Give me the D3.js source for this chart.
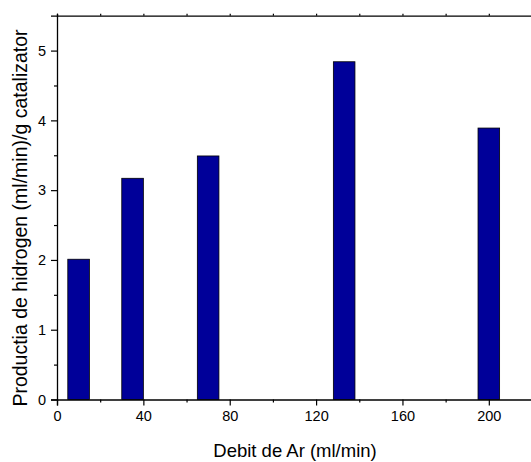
<!DOCTYPE html>
<html>
<head>
<meta charset="utf-8">
<script src="https://cdn.jsdelivr.net/npm/d3@7"></script>
<style>
  html, body { margin: 0; padding: 0; background: #fff; }
  svg { display: block; }
  text { font-family: "Liberation Sans", Arial, sans-serif; }
</style>
</head>
<body>
<svg id="chart" width="531" height="462"></svg>
<script>
const flows = [10, 35, 70, 133, 200];
const production = [2.01, 3.17, 3.49, 4.84, 3.89];
const barWidth = 10;
const xMajorTicks = [0, 40, 80, 120, 160, 200];
const xMinorTicks = [20, 60, 100, 140, 180, 220];
const yMajorTicks = [0, 1, 2, 3, 4, 5];
const yMinorTicks = [0.5, 1.5, 2.5, 3.5, 4.5];
const xTitle = "Debit de Ar (ml/min)";
const yTitle = "Productia de hidrogen (ml/min)/g catalizator";

(function () {
const svg = d3.select("#chart");
const mLeft = 57, mRight = 532, mTop = 15.7, mBottom = 399.5;

const x = d3.scaleLinear().domain([0, 220]).range([mLeft, mRight]);
const y = d3.scaleLinear().domain([0, 5.5]).range([mBottom, mTop]);

// bars
svg.append("g").selectAll("rect")
  .data(flows.map((f, i) => ({f, v: production[i]})))
  .join("rect")
  .attr("x", d => x(d.f - barWidth / 2))
  .attr("width", d => x(d.f + barWidth / 2) - x(d.f - barWidth / 2))
  .attr("y", d => y(d.v))
  .attr("height", d => y(0) - y(d.v))
  .attr("fill", "#000099")
  .attr("stroke", "#000")
  .attr("stroke-width", 0.8);

const fontSize = "14.5px";

// bottom axis major
const gxb = svg.append("g").attr("transform", `translate(0,${mBottom})`)
  .call(d3.axisBottom(x).tickValues(xMajorTicks).tickSize(6).tickPadding(5).tickFormat(d3.format("d")));
gxb.select(".domain").attr("stroke-width", 1.3);
gxb.selectAll(".tick line").attr("stroke-width", 1.2);
gxb.selectAll("text").style("font-size", fontSize).attr("fill", "#000");
// bottom axis minor
const gxbm = svg.append("g").attr("transform", `translate(0,${mBottom})`)
  .call(d3.axisBottom(x).tickValues(xMinorTicks).tickSize(3).tickFormat(""));
gxbm.select(".domain").remove();
gxbm.selectAll(".tick line").attr("stroke-width", 1.2);

// top axis (no labels)
const gxt = svg.append("g").attr("transform", `translate(0,${mTop})`)
  .call(d3.axisTop(x).tickValues(xMajorTicks.concat(xMinorTicks)).tickSize(2).tickFormat(""));
gxt.select(".domain").attr("stroke-width", 1.3);
gxt.selectAll(".tick line").attr("stroke-width", 1.2);

// left axis major
const gyl = svg.append("g").attr("transform", `translate(${mLeft},0)`)
  .call(d3.axisLeft(y).tickValues(yMajorTicks).tickSize(6).tickPadding(5).tickFormat(d3.format("d")));
gyl.select(".domain").attr("stroke-width", 1.3);
gyl.selectAll(".tick line").attr("stroke-width", 1.2);
gyl.selectAll("text").style("font-size", fontSize).attr("fill", "#000");
// left axis minor
const gylm = svg.append("g").attr("transform", `translate(${mLeft},0)`)
  .call(d3.axisLeft(y).tickValues(yMinorTicks).tickSize(3).tickFormat(""));
gylm.select(".domain").remove();
gylm.selectAll(".tick line").attr("stroke-width", 1.2);

// titles
svg.append("text")
  .attr("x", 295).attr("y", 456.5)
  .attr("text-anchor", "middle")
  .style("font-size", "18.5px")
  .attr("fill", "#000")
  .text(xTitle);

svg.append("text")
  .attr("transform", `translate(27,218) rotate(-90)`)
  .attr("text-anchor", "middle")
  .style("font-size", "19.5px")
  .attr("fill", "#000")
  .text(yTitle);
})();
</script>
</body>
</html>
